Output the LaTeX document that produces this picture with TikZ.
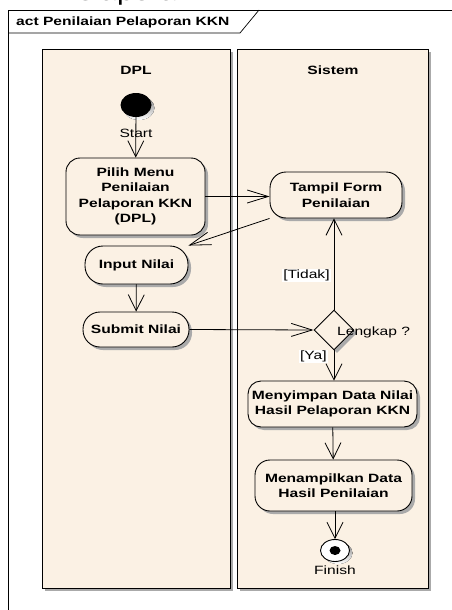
\documentclass[tikz,border=0pt]{standalone}
\usepackage{fontspec}
\setmainfont{Liberation Sans}[FakeStretch=1.3]
\usetikzlibrary{arrows.meta,shapes.geometric,shadows}
\definecolor{cream}{RGB}{251,241,228}
\definecolor{shade}{RGB}{170,170,170}

\tikzset{
  txt/.style={font=\fontsize{12}{15.5}\selectfont, inner sep=0pt},
  bold/.style={font=\fontsize{12}{15.5}\selectfont\bfseries, inner sep=0pt},
  shad/.style={drop shadow={shadow xshift=3pt, shadow yshift=-3pt, fill=shade, opacity=1}},
  lane/.style={draw, line width=0.9pt, fill=cream, shad, inner sep=0pt},
  act/.style={bold, draw, line width=0.9pt, fill=cream, shad, align=center, rounded corners=14pt},
  decision/.style={draw, line width=0.9pt, fill=cream, shad, diamond, inner sep=0pt,
                   minimum width=40pt, minimum height=40pt},
  % vertical flows get a shorter, wider barb than horizontal ones
  vflow/.style={line width=0.8pt, -{Straight Barb[length=16pt,width=16pt,line width=0.8pt]}},
  hflow/.style={line width=0.8pt, -{Straight Barb[length=21pt,width=13pt,line width=0.8pt]}},
  guard/.style={txt, fill=white, inner sep=1pt}
}

\begin{document}
\begin{tikzpicture}[x=1pt, y=-1pt]
  \useasboundingbox (0,0) rectangle (452,610);

  % heading of the page, running off the top edge
  \node[txt, anchor=base west, font=\fontsize{23}{23}\selectfont] (heading) at (57,1) {Pelaporan};

  % diagram frame with its name tab
  \draw[line width=0.7pt] (8,620) -- (8,10) -- (470,10);
  \draw[line width=0.7pt] (8,33) -- (240,33) -- (259,10);
  \node[bold, anchor=west] (frametitle) at (16,22) {act Penilaian Pelaporan KKN};

  % swimlanes
  \node[lane, minimum width=188pt, minimum height=539pt] (lanedpl) at (136,318.5) {};
  \node[lane, minimum width=191pt, minimum height=539pt] (lanesys) at (332.5,318.5) {};
  \node[bold] (titledpl) at (136,70) {DPL};
  \node[bold] (titlesys) at (333,70) {Sistem};

  % start
  \fill[shade] (139,108) ellipse [x radius=15.5, y radius=12];
  \node[fill=black, ellipse, minimum width=31pt, minimum height=24pt, inner sep=0pt] (start) at (136,105) {};
  \node[txt] (startlbl) at (136,133) {Start};

  % actions of the lecturer
  \node[act, minimum width=139pt, minimum height=77pt] (pilih) at (135.5,196.5)
    {Pilih Menu\\Penilaian\\Pelaporan KKN\\(DPL)};
  \node[act, rounded corners=18pt, minimum width=103pt, minimum height=38pt] (input) at (136.5,265) {Input Nilai};
  \node[act, rounded corners=17pt, minimum width=106pt, minimum height=35pt] (submit) at (136,329.5) {Submit Nilai};

  % actions of the system
  \node[act, rounded corners=16pt, minimum width=132pt, minimum height=46pt] (tampil) at (336,195) {Tampil Form\\Penilaian};
  \node[decision] (cek) at (334,330) {};
  \node[txt, anchor=west] (ceklbl) at (337,332) {Lengkap ?};
  \node[act, rounded corners=13pt, minimum width=169pt, minimum height=46pt] (simpan) at (332.5,404)
    {Menyimpan Data Nilai\\Hasil Pelaporan KKN};
  \node[act, rounded corners=15pt, minimum width=157pt, minimum height=51pt] (tampilkan) at (333.5,485.5)
    {Menampilkan Data\\Hasil Penilaian};

  % final node
  \fill[shade] (338,553) ellipse [x radius=14.5, y radius=11];
  \node[draw, line width=0.9pt, fill=white, ellipse, minimum width=29pt, minimum height=22pt, inner sep=0pt] (finish) at (335,550.5) {};
  \fill (finish.center) ellipse [x radius=5.5, y radius=4.5];
  \node[txt] (finishlbl) at (335,570) {Finish};

  % control flows
  \draw[vflow] (start) -- (pilih);
  \draw[hflow] (pilih.east) -- (tampil.west |- pilih.east);
  \draw[hflow] (tampil.south west) -- (input.north east);
  \draw[vflow] (input) -- (submit);
  \draw[hflow] (submit.east) -- (cek.west);
  \draw[vflow] (cek.north) -- (cek.north |- tampil.south)
    node[guard, pos=0.37, left=3pt] (tidak) {[Tidak]};
  \draw[vflow] (cek.south) -- (cek.south |- simpan.north)
    node[guard, pos=0.2, left=6pt] (ya) {[Ya]};
  \draw[vflow] (simpan) -- (tampilkan);
  \draw[vflow] (tampilkan.south -| finish.north) -- (finish.north);
\end{tikzpicture}
\end{document}
